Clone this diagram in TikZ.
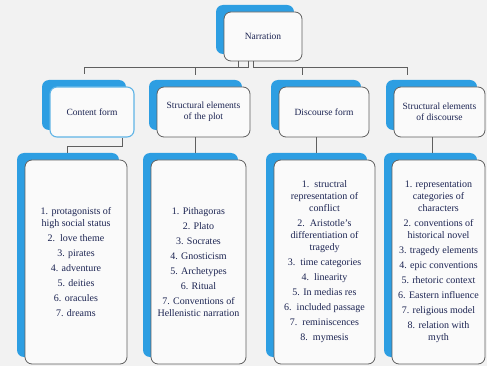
\documentclass[tikz,border=0pt]{standalone}
\usepackage{fontspec}
\setmainfont{Liberation Serif}
\usetikzlibrary{shadows}
\definecolor{pagebg}{RGB}{242,242,242}
\definecolor{boxfill}{RGB}{250,250,250}
\definecolor{boxline}{RGB}{95,95,95}
\definecolor{shadeblue}{RGB}{45,158,226}
\definecolor{lightline}{RGB}{95,180,230}
\definecolor{inktext}{RGB}{28,36,82}

\begin{document}
\begin{tikzpicture}[x=1pt, y=1pt,
    boxbase/.style={rounded corners=7pt, fill=boxfill, draw=boxline, line width=0.8pt,
      align=center, text=inktext, inner sep=2pt,
      general shadow={fill=shadeblue, shadow xshift=-8pt, shadow yshift=7pt}},
    headbox/.style={boxbase, minimum height=50pt, font=\fontsize{9.5}{11}\selectfont},
    listbox/.style={boxbase, minimum height=204pt, font=\fontsize{10}{12}\selectfont},
    link/.style={draw=boxline, line width=0.7pt}]
  \useasboundingbox[fill=pagebg] (0,0) rectangle (487,-366);

  % top
  \node[headbox, minimum width=78pt, minimum height=49pt] (nar) at (263,-36.5) {Narration};

  % second row
  \node[headbox, minimum width=84pt, draw=lightline, line width=1.1pt] (c1) at (92,-112)
    {Content form};
  \node[headbox, minimum width=93pt] (c2) at (203.5,-112) {Structural elements\\of the plot};
  \node[headbox, minimum width=90pt] (c3) at (324,-112) {Discourse form};
  \node[headbox, minimum width=91pt] (c4) at (439.5,-112) {Structural elements\\of discourse};

  % lists
  \node[listbox, minimum width=102pt] (l1) at (76,-262)
    {1. protagonists of\\high social status\\[3pt]
     2.\ \ love theme\\[3pt] 3. pirates\\[3pt] 4. adventure\\[3pt]
     5. deities\\[3pt] 6. oracules\\[3pt] 7. dreams};
  \node[listbox, minimum width=95pt] (l2) at (198.5,-262)
    {1. Pithagoras\\[3pt] 2. Plato\\[3pt] 3. Socrates\\[3pt] 4. Gnosticism\\[3pt]
     5. Archetypes\\[3pt] 6. Ritual\\[3pt] 7. Conventions of\\Hellenistic narration};
  \node[listbox, minimum width=101pt] (l3) at (324.5,-262)
    {1.\ \ structral\\representation of\\conflict\\[3pt]
     2.\ \ Aristotle's\\differentiation of\\tragedy\\[3pt]
     3.\ \ time categories\\[3pt] 4.\ \ linearity\\[3pt] 5. In medias res\\[3pt]
     6.\ \ included passage\\[3pt] 7.\ \ reminiscences\\[3pt] 8.\ \ mymesis};
  \node[listbox, minimum width=93pt] (l4) at (438.5,-262)
    {1. representation\\categories of\\characters\\[3pt]
     2. conventions of\\historical novel\\[3pt] 3. tragedy elements\\[3pt]
     4. epic conventions\\[3pt] 5. rhetoric context\\[3pt] 6. Eastern influence\\[3pt]
     7. religious model\\[3pt] 8. relation with\\myth};

  % bus from the top box
  \draw[link] ([xshift=-25pt]nar.south) -- ++(0,-7pt);
  \draw[link] ([xshift=-15pt]nar.south) |- ([xshift=-8pt,yshift=19pt]c1.north) -- ++(0,-7pt);
  \draw[link] ([xshift=-8.5pt,yshift=19pt]c2.north) -- ++(0,-7pt);
  \draw[link] ([xshift=-10pt]nar.south) |- ([xshift=-32pt,yshift=19pt]c4.north) -- ++(0,-7pt);
  \draw[link] ([xshift=-22pt,yshift=19pt]c3.north) -- ++(0,-7pt);

  % second row to lists
  \draw[link] ([xshift=30pt]c1.south) -- ++(0,-9pt) -| ([xshift=-9pt,yshift=7pt]l1.north);
  \draw[link] ([xshift=-8.5pt]c2.south) -- ([xshift=-3.5pt,yshift=7pt]l2.north);
  \draw[link] ([xshift=-8pt]c3.south) -- ([xshift=-8.5pt,yshift=7pt]l3.north);
  \draw[link] ([xshift=-7.5pt]c4.south) -- ([xshift=-6.5pt,yshift=7pt]l4.north);
\end{tikzpicture}
\end{document}
